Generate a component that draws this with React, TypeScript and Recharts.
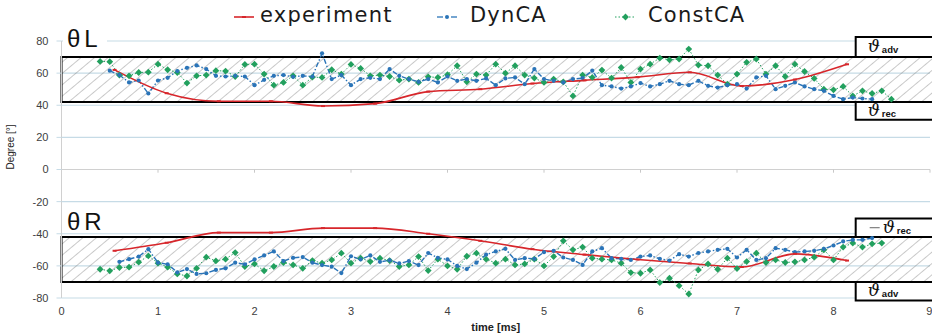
import React from 'react';
import { LineChart, Line, XAxis, YAxis, CartesianGrid, ReferenceArea, ReferenceLine } from 'recharts';

const xTicks = [0, 1, 2, 3, 4, 5, 6, 7, 8, 9];
const yTicks = [-80, -60, -40, -20, 0, 20, 40, 60, 80];

const expTime = [0.55, 1.09, 1.63, 2.17, 2.71, 3.25, 3.8, 4.34, 4.88, 5.42, 5.97, 6.51, 7.05, 7.6, 8.14];
const expTop = [62, 47.5, 42.5, 42.5, 39.5, 41, 48.5, 50, 53.5, 55.5, 57.5, 60.5, 52, 56, 65.5];
const expBottom = [-50.6, -45.6, -39.3, -39.3, -36.5, -36.5, -40, -44.4, -49.6, -53, -56, -58.5, -60.7, -52.5, -56.7];

const simTime = [
  0.4, 0.5, 0.6, 0.7, 0.8, 0.9, 1.0, 1.1, 1.2, 1.3,
  1.4, 1.5, 1.6, 1.7, 1.8, 1.9, 2.0, 2.1, 2.2, 2.3,
  2.4, 2.5, 2.6, 2.7, 2.8, 2.9, 3.0, 3.1, 3.2, 3.3,
  3.4, 3.5, 3.6, 3.7, 3.8, 3.9, 4.0, 4.1, 4.2, 4.3,
  4.4, 4.5, 4.6, 4.7, 4.8, 4.9, 5.0, 5.1, 5.2, 5.3,
  5.4, 5.5, 5.6, 5.7, 5.8, 5.9, 6.0, 6.1, 6.2, 6.3,
  6.4, 6.5, 6.6, 6.7, 6.8, 6.9, 7.0, 7.1, 7.2, 7.3,
  7.4, 7.5, 7.6, 7.7, 7.8, 7.9, 8.0, 8.1, 8.2, 8.3,
  8.4, 8.5, 8.6,
];

const constTop = [
  67.3, 67.1, 58.8, 58.3, 60.4, 60.6, 65.6, 62.1, 60.4, 53.8,
  58.3, 58.8, 61.5, 61.3, 57.9, 65.4, 65.6, 59.4, 52.5, 54.2,
  58.3, 52.5, 57.5, 57.3, 62.1, 59.4, 65.4, 62.9, 58.3, 58.8,
  57.9, 55.6, 56.3, 54.2, 57.7, 57.3, 59, 64.6, 54.6, 59.4,
  58.8, 65.6, 60, 64.6, 58.8, 56.9, 54.2, 56.3, 54.6, 45.8,
  58.8, 57.3, 61.9, 56.9, 63.5, 54.2, 62.5, 65.6, 69.4, 68.3,
  68.8, 75, 65, 64.6, 58.8, 53.1, 59.4, 66.7, 68.8, 59.4,
  64.6, 57.9, 65.6, 61, 56.7, 50, 49.6, 51.7, 45.8, 49,
  47.3, 49, 43.8,
];

const dynTop = [
  null, 61.5, 58.8, 54.2, 55.4, 47.3, 55.4, 57.1, 61.3, 63.3,
  64.8, 62.5, 58.3, 57.9, 58.3, 57.9, 52.5, 55.8, 58.3, 58.8,
  57.7, 58.3, 57.9, 72.3, 56.3, 58.8, 52.5, 56.3, 57.1, 56.3,
  62.5, 58.3, 56.3, 54.6, 56.3, 54.2, 57.9, 55.2, 56.3, 55.2,
  56.7, 52.5, 56.7, 57.3, 53.1, 62.5, 56.3, 55.2, 54.2, 56.3,
  56.9, 61.5, 52.5, 51.7, 50.4, 51.7, 53.8, 51.7, 53.1, 55.2,
  53.1, 52.5, 55.2, 52.1, 51, 52.5, 53.1, 50.4, 57.3, 58.3,
  50, 52.1, 54.2, 51.7, 50, 49, 45.8, 43.8, 44.8, 44.2,
  43.8, null, null,
];

const constBottom = [
  -62.1, -63.1, -61, -60.8, -57.7, -53.8, -58.3, -60.8, -65, -66.3,
  -61.5, -54.6, -56.9, -55.8, -51.7, -60.4, -58.8, -63.1, -60.4, -57.9,
  -59.4, -61.5, -56.7, -58.3, -56.3, -52.1, -58.3, -55.2, -57.3, -55.2,
  -56.7, -60.4, -59.4, -54.2, -62.9, -55.8, -60, -62.1, -54, -52.1,
  -55.8, -58.3, -55.8, -59.4, -58.8, -55.8, -60, -54.2, -44.4, -50,
  -48.3, -55.2, -55.8, -56.3, -58.3, -64.2, -64.6, -62.5, -70.4, -67.7,
  -72.3, -77.5, -62.5, -58.8, -62.1, -55.2, -61.7, -57.3, -52.1, -57.9,
  -56.3, -57.9, -57.5, -56.3, -54.6, -50, -56.3, -48.3, -45.8, -48.3,
  -46.3, -45.8, null,
];

const dynBottom = [
  null, null, -57.5, -55.8, -54.2, -49.6, -58, -59, -64, -62,
  -65, -64.6, -62.5, -61.5, -58, -59, -56, -53.5, -51, -57,
  -55, -54.5, -58, -59.5, -60.5, -64.5, -54, -56, -53.5, -57.5,
  -56.5, -58.5, -57, -59.5, -52, -55, -56, -60, -62, -58,
  -53, -51, -49.4, -56.3, -55.2, -55.6, -51.5, -50.6, -54.8, -56.3,
  -59.4, -51, -49, -55.2, -55.6, -56.3, -54.2, -53.5, -55.6, -56.7,
  -52.7, -54.2, -52, -51, -50, -49.4, -54.8, -50, -56.3, -55.2,
  -49, -50, -51.5, -51, -50.6, -49.4, -47.3, -44.8, -43.8, -43.8,
  -42.7, null, null,
];

const simData = simTime.map((t, i) => ({
  t,
  constTop: constTop[i],
  dynTop: dynTop[i],
  constBottom: constBottom[i],
  dynBottom: dynBottom[i],
}));
const expData = expTime.map((t, i) => ({ t, expTop: expTop[i], expBottom: expBottom[i] }));

const RED = '#d7262b';
const BLUE = '#2a74b8';
const GREEN = '#22a05e';
const GRID = '#c6dbe6';

const GreenDot = (p: any) => {
  const { cx, cy, value } = p;
  if (cx == null || cy == null || value == null) return <g />;
  return <path d={`M${cx},${cy - 3.4}L${cx + 3.4},${cy}L${cx},${cy + 3.4}L${cx - 3.4},${cy}Z`} fill={GREEN} />;
};
const BlueDot = (p: any) => {
  const { cx, cy, value } = p;
  if (cx == null || cy == null || value == null) return <g />;
  return <circle cx={cx} cy={cy} r={2.1} fill={BLUE} />;
};
const RedDot = (p: any) => {
  const { cx, cy, value } = p;
  if (cx == null || cy == null || value == null) return <g />;
  return <rect x={cx - 2} y={cy - 1} width={4} height={2} fill={RED} />;
};

const BoxLabel = (props: any) => {
  const { viewBox, sub, dash } = props;
  if (!viewBox) return null;
  const { x, y, height } = viewBox;
  const bx = x + (dash ? 14 : 12);
  const by = y + height / 2 + 5;
  return (
    <g>
      {dash ? <line x1={x + 14} x2={x + 24} y1={by - 5} y2={by - 5} stroke="#666" strokeWidth={1} /> : null}
      <text x={bx + (dash ? 13 : 0)} y={by} fill="#111">
        <tspan fontFamily="'DejaVu Serif', serif" fontStyle="italic" fontSize={17}>ϑ</tspan>
        <tspan fontFamily="'Liberation Sans', Arial, sans-serif" fontWeight="bold" fontSize={9.5} dx={2} dy={1}>{sub}</tspan>
      </text>
    </g>
  );
};

const legendText: React.CSSProperties = {
  position: 'absolute',
  top: 5,
  fontFamily: "'DejaVu Sans', sans-serif",
  fontSize: 21,
  lineHeight: '21px',
  letterSpacing: 1.2,
  color: '#1a1a1a',
  whiteSpace: 'nowrap',
};

export default function App() {
  return (
    <div style={{ position: 'absolute', left: 0, top: 0, width: 932, height: 333, background: '#fff', overflow: 'hidden' }}>
      <LineChart width={932} height={333} margin={{ top: 41, right: 2, left: 0, bottom: 0 }}>
        <defs>
          <pattern id="hatch" patternUnits="userSpaceOnUse" width={8.7} height={8.7} patternTransform="rotate(50)">
            <line x1={0} y1={0} x2={0} y2={8.7} stroke="#7a7a7a" strokeWidth={0.8} />
          </pattern>
        </defs>
        <CartesianGrid vertical={false} stroke={GRID} strokeWidth={1.2} />
        <XAxis
          type="number"
          dataKey="t"
          domain={[0, 9]}
          ticks={xTicks}
          allowDataOverflow
          axisLine={false}
          tickLine={false}
          tickSize={0}
          tickMargin={9}
          height={35}
          tick={{ fill: '#404040', fontSize: 11, fontFamily: "'Liberation Sans', Arial, sans-serif" }}
          label={{ value: 'time [ms]', position: 'insideBottom', offset: 2, style: { fontWeight: 'bold', fontSize: 11, fill: '#222', fontFamily: "'Liberation Sans', Arial, sans-serif" } }}
        />
        <YAxis
          type="number"
          domain={[-80, 80]}
          ticks={yTicks}
          width={61.5}
          axisLine={{ stroke: '#d0d0d0' }}
          tickLine={{ stroke: GRID }}
          tickSize={5}
          tickMargin={8}
          tick={{ fill: '#404040', fontSize: 11, fontFamily: "'Liberation Sans', Arial, sans-serif" }}
          label={{ value: 'Degree [°]', angle: -90, position: 'insideLeft', offset: 10, style: { fontSize: 10, fill: '#222', fontFamily: "'Liberation Sans Narrow', 'Liberation Sans', Arial, sans-serif" } }}
        />
        <ReferenceLine y={0} stroke="#d0d0d0" strokeWidth={1.2} />
        {xTicks.map((t) => (
          <ReferenceLine key={'tk' + t} segment={[{ x: t, y: 0 }, { x: t, y: -2 }]} stroke="#c8c8c8" ifOverflow="visible" />
        ))}
        <ReferenceArea x1={0} x2={9.1} y1={42} y2={70} fill="url(#hatch)" fillOpacity={1} stroke="#000" strokeWidth={2} ifOverflow="visible" />
        <ReferenceArea x1={0} x2={9.1} y1={-70} y2={-42} fill="url(#hatch)" fillOpacity={1} stroke="#000" strokeWidth={2} ifOverflow="visible" />

        <Line data={simData} dataKey="constTop" stroke={GREEN} strokeWidth={1} strokeDasharray="1.5 2" dot={GreenDot} isAnimationActive={false} />
        <Line data={simData} dataKey="constBottom" stroke={GREEN} strokeWidth={1} strokeDasharray="1.5 2" dot={GreenDot} isAnimationActive={false} />
        <Line data={simData} dataKey="dynTop" stroke={BLUE} strokeWidth={1.4} strokeDasharray="5 2 1.5 2" dot={BlueDot} isAnimationActive={false} />
        <Line data={simData} dataKey="dynBottom" stroke={BLUE} strokeWidth={1.4} strokeDasharray="5 2 1.5 2" dot={BlueDot} isAnimationActive={false} />
        <Line data={expData} dataKey="expTop" type="monotone" stroke={RED} strokeWidth={1.6} dot={RedDot} isAnimationActive={false} />
        <Line data={expData} dataKey="expBottom" type="monotone" stroke={RED} strokeWidth={1.6} dot={RedDot} isAnimationActive={false} />

        <ReferenceArea x1={8.23} x2={9.2} y1={70} y2={82.5} fill="#fff" fillOpacity={1} stroke="#000" strokeWidth={2} ifOverflow="visible" label={<BoxLabel sub="adv" />} />
        <ReferenceArea x1={8.23} x2={9.2} y1={31} y2={42} fill="#fff" fillOpacity={1} stroke="#000" strokeWidth={2} ifOverflow="visible" label={<BoxLabel sub="rec" />} />
        <ReferenceArea x1={8.23} x2={9.2} y1={-42} y2={-30.5} fill="#fff" fillOpacity={1} stroke="#000" strokeWidth={2} ifOverflow="visible" label={<BoxLabel sub="rec" dash />} />
        <ReferenceArea x1={8.23} x2={9.2} y1={-81.5} y2={-70} fill="#fff" fillOpacity={1} stroke="#000" strokeWidth={2} ifOverflow="visible" label={<BoxLabel sub="adv" />} />
      </LineChart>

      {/* panel titles */}
      <div style={{ position: 'absolute', left: 63, top: 27, width: 44, paddingLeft: 4, boxSizing: 'border-box', background: '#fff', fontFamily: "'Liberation Sans', Arial, sans-serif", fontSize: 24, lineHeight: '24px', letterSpacing: 4, color: '#111' }}>θL</div>
      <div style={{ position: 'absolute', left: 67, top: 210, fontFamily: "'Liberation Sans', Arial, sans-serif", fontSize: 24, lineHeight: '24px', letterSpacing: 4, color: '#111' }}>θR</div>

      {/* legend */}
      <svg style={{ position: 'absolute', left: 0, top: 0 }} width={932} height={30}>
        <line x1={234} x2={254} y1={17} y2={17} stroke={RED} strokeWidth={1.6} />
        <rect x={242} y={16} width={4} height={2} fill={RED} />
        <line x1={437} x2={443} y1={17} y2={17} stroke={BLUE} strokeWidth={1.3} />
        <line x1={451} x2={457} y1={17} y2={17} stroke={BLUE} strokeWidth={1.3} />
        <circle cx={447} cy={17} r={2} fill={BLUE} />
        <line x1={615} x2={636} y1={17} y2={17} stroke={GREEN} strokeWidth={1} strokeDasharray="1.5 2" />
        <path d="M625.5,13.6L628.9,17L625.5,20.4L622.1,17Z" fill={GREEN} />
      </svg>
      <div style={{ ...legendText, left: 260 }}>experiment</div>
      <div style={{ ...legendText, left: 470 }}>DynCA</div>
      <div style={{ ...legendText, left: 648 }}>ConstCA</div>
    </div>
  );
}
